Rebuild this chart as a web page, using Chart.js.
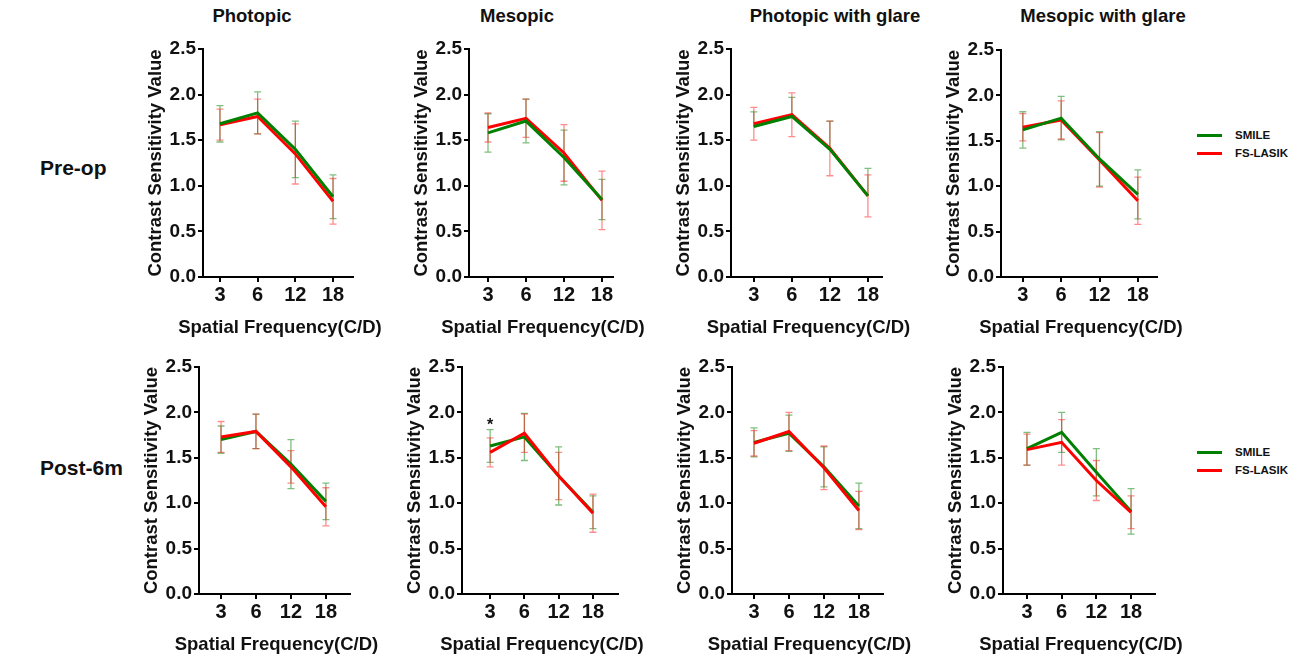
<!DOCTYPE html>
<html>
<head>
<meta charset="utf-8">
<title>Contrast sensitivity</title>
<script src="https://cdn.jsdelivr.net/npm/chart.js@4.4.0/dist/chart.umd.min.js"></script>
<style>
  body { margin: 0; background: #fff; width: 1299px; height: 659px; position: relative; overflow: hidden;
         font-family: "Liberation Sans", Arial, sans-serif; font-weight: bold; color: #111; }
  canvas { position: absolute; }
  .ptitle { position: absolute; font-size: 18.5px; line-height: 18.5px; transform: translateX(-50%); white-space: nowrap; }
  .rowlabel { position: absolute; font-size: 21px; line-height: 21px; white-space: nowrap; }
  .legend { position: absolute; font-size: 11.5px; line-height: 12px; }
  .legend div { position: relative; height: 12px; margin-bottom: 6px; padding-left: 38px; white-space: nowrap; }
  .legend span { position: absolute; left: 0; top: 5px; width: 25px; height: 3px; }
</style>
</head>
<body>

<div class="ptitle" style="left:252px; top:7px;">Photopic</div>
<div class="ptitle" style="left:517px; top:7px;">Mesopic</div>
<div class="ptitle" style="left:835px; top:7px;">Photopic with glare</div>
<div class="ptitle" style="left:1103px; top:7px;">Mesopic with glare</div>

<div class="rowlabel" style="left:40px; top:157px;">Pre-op</div>
<div class="rowlabel" style="left:40px; top:457px;">Post-6m</div>

<div class="legend" style="left:1197px; top:129px;">
  <div><span style="background:#008000"></span>SMILE</div>
  <div><span style="background:#ff0000"></span>FS-LASIK</div>
</div>
<div class="legend" style="left:1197px; top:446px;">
  <div><span style="background:#008000"></span>SMILE</div>
  <div><span style="background:#ff0000"></span>FS-LASIK</div>
</div>

<script>
// spatial frequencies (cycles/degree)
const categories = ['3', '6', '12', '18'];

// Pre-op
const photopicPreSmile = [1.68, 1.80, 1.40, 0.88];
const photopicPreSmileSd = [0.20, 0.23, 0.31, 0.24];
const photopicPreLasik = [1.67, 1.76, 1.35, 0.83];
const photopicPreLasikSd = [0.17, 0.19, 0.33, 0.25];

const mesopicPreSmile = [1.58, 1.71, 1.31, 0.85];
const mesopicPreSmileSd = [0.21, 0.24, 0.30, 0.22];
const mesopicPreLasik = [1.64, 1.74, 1.36, 0.84];
const mesopicPreLasikSd = [0.16, 0.21, 0.31, 0.32];

const photopicGlarePreSmile = [1.65, 1.76, 1.40, 0.89];
const photopicGlarePreSmileSd = [0.16, 0.21, 0.31, 0.30];
const photopicGlarePreLasik = [1.68, 1.78, 1.41, 0.89];
const photopicGlarePreLasikSd = [0.18, 0.24, 0.30, 0.23];

const mesopicGlarePreSmile = [1.62, 1.75, 1.30, 0.91];
const mesopicGlarePreSmileSd = [0.20, 0.24, 0.30, 0.27];
const mesopicGlarePreLasik = [1.65, 1.73, 1.29, 0.84];
const mesopicGlarePreLasikSd = [0.15, 0.21, 0.30, 0.26];

// Post-6m
const photopicPostSmile = [1.70, 1.79, 1.43, 1.02];
const photopicPostSmileSd = [0.15, 0.19, 0.27, 0.20];
const photopicPostLasik = [1.73, 1.79, 1.40, 0.96];
const photopicPostLasikSd = [0.17, 0.19, 0.18, 0.21];

const mesopicPostSmile = [1.63, 1.73, 1.30, 0.90];
const mesopicPostSmileSd = [0.18, 0.26, 0.32, 0.18];
const mesopicPostLasik = [1.56, 1.77, 1.30, 0.89];
const mesopicPostLasikSd = [0.16, 0.21, 0.26, 0.21];
const mesopicPostSig = ['*', '', '', ''];

const photopicGlarePostSmile = [1.67, 1.77, 1.40, 0.97];
const photopicGlarePostSmileSd = [0.16, 0.20, 0.22, 0.25];
const photopicGlarePostLasik = [1.66, 1.79, 1.39, 0.92];
const photopicGlarePostLasikSd = [0.14, 0.21, 0.24, 0.21];

const mesopicGlarePostSmile = [1.60, 1.78, 1.34, 0.91];
const mesopicGlarePostSmileSd = [0.18, 0.22, 0.26, 0.25];
const mesopicGlarePostLasik = [1.59, 1.67, 1.25, 0.90];
const mesopicGlarePostLasikSd = [0.17, 0.25, 0.22, 0.18];

const FONT = 'Liberation Sans';
const TEXT = '#111';
const X_TITLE = 'Spatial Frequency(C/D)';

// where each little plot sits on the page (axis corner, extent, x padding)
const panels = [
  { smile: photopicPreSmile, smileSd: photopicPreSmileSd, lasik: photopicPreLasik, lasikSd: photopicPreLasikSd,
    axisX: 203, axisEnd: 353, top: 49, bottom: 277, xMin: -0.45, xMax: 3.53, smileOnTop: true },
  { smile: mesopicPreSmile, smileSd: mesopicPreSmileSd, lasik: mesopicPreLasik, lasikSd: mesopicPreLasikSd,
    axisX: 469, axisEnd: 613, top: 49, bottom: 277, xMin: -0.5, xMax: 3.29, smileOnTop: true },
  { smile: photopicGlarePreSmile, smileSd: photopicGlarePreSmileSd, lasik: photopicGlarePreLasik, lasikSd: photopicGlarePreLasikSd,
    axisX: 731, axisEnd: 882, top: 49, bottom: 277, xMin: -0.6, xMax: 3.37, smileOnTop: true, smileUpOnly: true },
  { smile: mesopicGlarePreSmile, smileSd: mesopicGlarePreSmileSd, lasik: mesopicGlarePreLasik, lasikSd: mesopicGlarePreLasikSd,
    axisX: 1001, axisEnd: 1157, top: 50, bottom: 277, xMin: -0.57, xMax: 3.5, smileOnTop: true },
  { smile: photopicPostSmile, smileSd: photopicPostSmileSd, lasik: photopicPostLasik, lasikSd: photopicPostLasikSd,
    axisX: 199, axisEnd: 350, top: 367, bottom: 594, xMin: -0.63, xMax: 3.69, smileOnTop: false },
  { smile: mesopicPostSmile, smileSd: mesopicPostSmileSd, lasik: mesopicPostLasik, lasikSd: mesopicPostLasikSd,
    axisX: 462, axisEnd: 618, top: 367, bottom: 594, xMin: -0.82, xMax: 3.73, smileOnTop: false, sig: mesopicPostSig },
  { smile: photopicGlarePostSmile, smileSd: photopicGlarePostSmileSd, lasik: photopicGlarePostLasik, lasikSd: photopicGlarePostLasikSd,
    axisX: 732, axisEnd: 883, top: 367, bottom: 594, xMin: -0.63, xMax: 3.69, smileOnTop: false },
  { smile: mesopicGlarePostSmile, smileSd: mesopicGlarePostSmileSd, lasik: mesopicGlarePostLasik, lasikSd: mesopicGlarePostLasikSd,
    axisX: 1003, axisEnd: 1155, top: 367, bottom: 594, xMin: -0.69, xMax: 3.69, smileOnTop: false }
];

const Y_W = 58;   // room for y title + tick labels
const X_H = 70;   // room for x tick labels + title
const PAD_T = 15;
const PAD_R = 40; // extra canvas on the right so the x title is not squeezed

// mean +/- SD bars, drawn under the lines
const errorBars = {
  id: 'errorBars',
  beforeDatasetsDraw(chart) {
    const { ctx, scales: { x, y } } = chart;
    chart.data.datasets.forEach(ds => {
      ctx.save();
      ctx.strokeStyle = ds.errColor;
      ctx.lineWidth = 1.3;
      ds.data.forEach((pt, i) => {
        const px = x.getPixelForValue(pt.x);
        const hi = y.getPixelForValue(pt.y + ds.sd[i]);
        const lo = y.getPixelForValue(ds.upOnly ? pt.y : pt.y - ds.sd[i]);
        ctx.beginPath();
        ctx.moveTo(px, hi); ctx.lineTo(px, lo);
        ctx.moveTo(px - 3.5, hi); ctx.lineTo(px + 3.5, hi);
        if (!ds.upOnly) { ctx.moveTo(px - 3.5, lo); ctx.lineTo(px + 3.5, lo); }
        ctx.stroke();
      });
      ctx.restore();
    });
  }
};

// significance marks above the bars, and the x title at full width
const extras = {
  id: 'extras',
  afterDraw(chart, args, opts) {
    const { ctx, chartArea, scales: { x, y } } = chart;
    ctx.save();
    ctx.fillStyle = TEXT;
    ctx.textAlign = 'center';
    ctx.textBaseline = 'middle';
    ctx.font = 'bold 18.5px "' + FONT + '"';
    ctx.fillText(X_TITLE, (chartArea.left + chartArea.right) / 2 + 2, chartArea.bottom + 51);
    if (opts.marks) {
      ctx.font = 'bold 16px "' + FONT + '"';
      opts.marks.forEach((m, i) => {
        if (!m) return;
        let top = Infinity;
        chart.data.datasets.forEach(ds => {
          top = Math.min(top, y.getPixelForValue(ds.data[i].y + ds.sd[i]));
        });
        ctx.fillText(m, x.getPixelForValue(i), top - 4);
      });
    }
    ctx.restore();
  }
};

panels.forEach(p => {
  const cv = document.createElement('canvas');
  const left = p.axisX - Y_W;
  const top = p.top - PAD_T;
  cv.width = p.axisEnd - left + PAD_R;
  cv.height = PAD_T + (p.bottom - p.top) + X_H;
  cv.style.left = left + 'px';
  cv.style.top = top + 'px';
  document.body.appendChild(cv);

  const pts = arr => arr.map((v, i) => ({ x: i, y: v }));

  new Chart(cv, {
    type: 'line',
    data: {
      datasets: [
        { label: 'SMILE', data: pts(p.smile), sd: p.smileSd, upOnly: !!p.smileUpOnly,
          borderColor: '#008000', errColor: 'rgba(0,128,0,0.5)', borderWidth: 3,
          pointRadius: 0, tension: 0, order: p.smileOnTop ? 0 : 1 },
        { label: 'FS-LASIK', data: pts(p.lasik), sd: p.lasikSd,
          borderColor: '#ff0000', errColor: 'rgba(255,0,0,0.45)', borderWidth: 3,
          pointRadius: 0, tension: 0, order: p.smileOnTop ? 1 : 0 }
      ]
    },
    options: {
      responsive: false,
      animation: false,
      layout: { padding: { top: PAD_T, right: PAD_R, left: 0, bottom: 0 } },
      plugins: { legend: { display: false }, tooltip: { enabled: false }, extras: { marks: p.sig } },
      scales: {
        x: {
          type: 'linear', min: p.xMin, max: p.xMax,
          afterBuildTicks: s => { s.ticks = categories.map((c, i) => ({ value: i })); },
          afterFit: s => { s.height = X_H; },
          border: { color: '#000', width: 2 },
          grid: { drawOnChartArea: false, tickLength: 5, color: '#000', lineWidth: 2 },
          ticks: { callback: v => categories[v], color: TEXT, padding: 1, maxRotation: 0, autoSkip: false,
                   font: { family: FONT, weight: 'bold', size: 20 } }
        },
        y: {
          min: 0, max: 2.5,
          afterFit: s => { s.width = Y_W; },
          border: { color: '#000', width: 2 },
          grid: { drawOnChartArea: false, tickLength: 5, color: '#000', lineWidth: 2 },
          ticks: { stepSize: 0.5, callback: v => v.toFixed(1), color: TEXT, padding: 2,
                   font: { family: FONT, weight: 'bold', size: 19 } },
          title: { display: true, text: 'Contrast Sensitivity Value', color: TEXT, padding: { top: 0, bottom: 0 },
                   font: { family: FONT, weight: 'bold', size: 18.5 } }
        }
      }
    },
    plugins: [errorBars, extras]
  });
});
</script>
</body>
</html>
